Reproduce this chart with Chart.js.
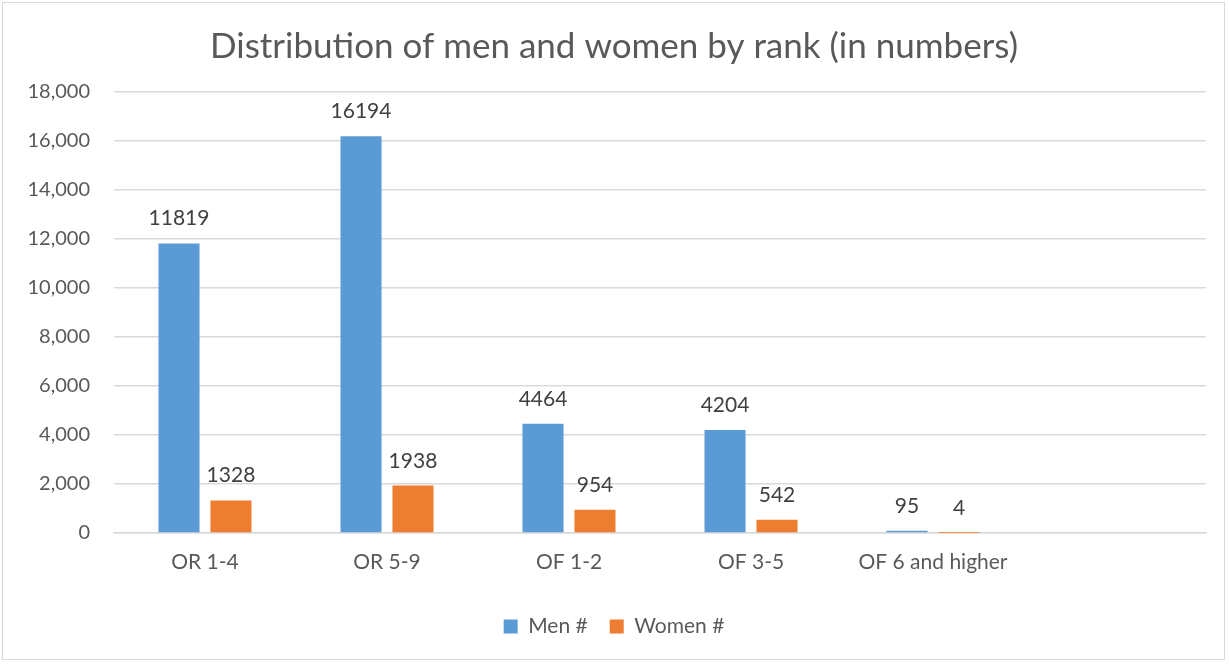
<!DOCTYPE html>
<html>
<head>
<meta charset="utf-8">
<script src="https://cdn.jsdelivr.net/npm/chart.js@4"></script>
<style>
html,body{margin:0;padding:0;background:#fff;}
#wrap{position:absolute;left:0;top:0;width:1229px;height:664px;}
#frame{position:absolute;left:2px;top:2px;width:1223px;height:658px;border:1px solid #d9d9d9;box-sizing:border-box;pointer-events:none;}
</style>
</head>
<body>
<div id="wrap"><canvas id="c" width="1229" height="664"></canvas><div id="frame"></div></div>
<script>
const categories = ["OR 1-4", "OR 5-9", "OF 1-2", "OF 3-5", "OF 6 and higher", ""];
const menValues = [11819, 16194, 4464, 4204, 95, null];
const womenValues = [1328, 1938, 954, 542, 4, null];
const seriesNames = ["Men #", "Women #"];
const chartTitle = "Distribution of men and women by rank (in numbers)";

const FONT = "Lato, 'Open Sans', sans-serif";

const valueLabels = {
  id: 'valueLabels',
  afterDatasetsDraw(chart) {
    const ctx = chart.ctx;
    ctx.save();
    ctx.font = "21px " + FONT;
    ctx.fillStyle = "#404040";
    ctx.textAlign = "center";
    ctx.textBaseline = "alphabetic";
    chart.data.datasets.forEach((ds, i) => {
      chart.getDatasetMeta(i).data.forEach((bar, j) => {
        const v = ds.data[j];
        if (v === null || v === undefined) return;
        ctx.fillText(String(v), bar.x, bar.y - 18);
      });
    });
    ctx.restore();
  }
};

new Chart(document.getElementById('c'), {
  type: 'bar',
  data: {
    labels: categories,
    datasets: [
      { label: seriesNames[0], data: menValues, backgroundColor: '#5b9bd5', categoryPercentage: 0.571, barPercentage: 0.79 },
      { label: seriesNames[1], data: womenValues, backgroundColor: '#ed7d31', categoryPercentage: 0.571, barPercentage: 0.79 }
    ]
  },
  options: {
    responsive: false,
    animation: false,
    layout: { padding: { left: 22, right: 23, top: 14, bottom: 17 } },
    plugins: {
      title: {
        display: true, text: chartTitle, color: '#595959',
        font: { family: FONT, size: 35, weight: 'normal' },
        padding: { top: 12, bottom: 24 }
      },
      legend: {
        position: 'bottom',
        labels: { color: '#595959', font: { family: FONT, size: 21 }, boxWidth: 14, boxHeight: 14, padding: 22 }
      },
      tooltip: { enabled: false }
    },
    scales: {
      x: {
        afterFit(s) { s.height = 61; },
        grid: { display: false, drawTicks: false },
        border: { color: '#d9d9d9', width: 1.5 },
        ticks: { color: '#595959', font: { family: FONT, size: 21 }, padding: 17, maxRotation: 0 }
      },
      y: {
        min: 0, max: 18000,
        afterFit(s) { s.width = 92; },
        grid: { color: '#d9d9d9', lineWidth: 1.5, drawTicks: false },
        border: { display: false },
        ticks: {
          stepSize: 2000, color: '#595959', font: { family: FONT, size: 20 }, padding: 24,
          callback: v => v.toLocaleString('en-US')
        }
      }
    }
  },
  plugins: [valueLabels]
});
</script>
</body>
</html>
